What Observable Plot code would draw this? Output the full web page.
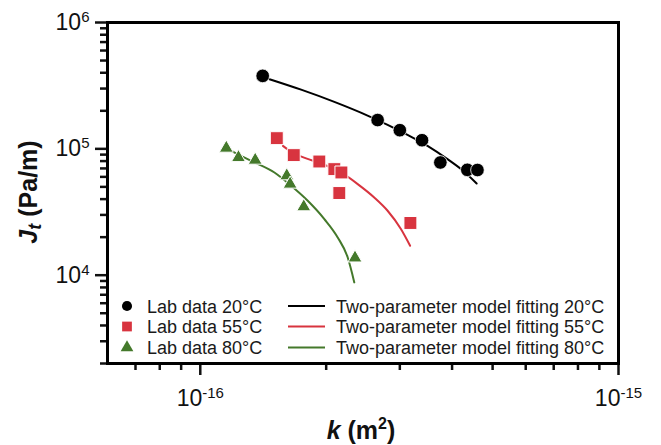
<!DOCTYPE html>
<html>
<head>
<meta charset="utf-8">
<script src="https://cdn.jsdelivr.net/npm/d3@7"></script>
<script src="https://cdn.jsdelivr.net/npm/@observablehq/plot@0.6"></script>
<style>
  html, body { margin: 0; padding: 0; background: #fff; }
  #chart { width: 661px; height: 445px; }
</style>
</head>
<body>
<div id="chart"></div>
<script>
// ---- data ----
const k20 = [1.41e-16, 2.655e-16, 3.0e-16, 3.39e-16, 3.75e-16, 4.35e-16, 4.6e-16];
const J20 = [3.78e5, 1.69e5, 1.405e5, 1.17e5, 7.8e4, 6.82e4, 6.8e4];

const k55 = [1.524e-16, 1.673e-16, 1.926e-16, 2.092e-16, 2.175e-16, 2.15e-16, 3.18e-16];
const J55 = [1.215e5, 8.92e4, 7.94e4, 6.91e4, 6.5e4, 4.47e4, 2.59e4];

const k80 = [1.154e-16, 1.234e-16, 1.353e-16, 1.61e-16, 1.64e-16, 1.768e-16, 2.344e-16];
const J80 = [1.013e5, 8.53e4, 8.14e4, 6.12e4, 5.26e4, 3.48e4, 1.37e4];

const fitK20 = [1.464e-16, 1.742e-16, 2.092e-16, 2.512e-16, 2.805e-16, 3.13e-16, 3.494e-16, 3.90e-16, 4.27e-16, 4.58e-16];
const fitJ20 = [3.556e5, 2.94e5, 2.353e5, 1.834e5, 1.549e5, 1.29e5, 1.056e5, 8.29e4, 6.62e4, 5.32e4];

const fitK55 = [1.576e-16, 1.673e-16, 1.791e-16, 1.944e-16, 2.17e-16, 2.379e-16, 2.606e-16, 2.805e-16, 3.018e-16, 3.175e-16];
const fitJ55 = [1.056e5, 9.21e4, 8.41e4, 7.65e4, 6.5e4, 5.26e4, 4.12e4, 3.235e4, 2.32e4, 1.71e4];

const fitK80 = [1.164e-16, 1.230e-16, 1.348e-16, 1.504e-16, 1.649e-16, 1.807e-16, 1.98e-16, 2.131e-16, 2.252e-16, 2.335e-16];
const fitJ80 = [1.0e5, 9.05e4, 7.82e4, 6.5e4, 5.1e4, 3.88e4, 2.78e4, 1.99e4, 1.38e4, 8.77e3];

const xMajorTicks = [1e-16, 1e-15];
const xMinorTicks = [7e-17, 8e-17, 9e-17, 2e-16, 3e-16, 4e-16, 5e-16, 6e-16, 7e-16, 8e-16, 9e-16];
const yMajorTicks = [1e4, 1e5, 1e6];
const yMinorTicks = [2e3, 3e3, 4e3, 5e3, 6e3, 7e3, 8e3, 9e3,
                     2e4, 3e4, 4e4, 5e4, 6e4, 7e4, 8e4, 9e4,
                     2e5, 3e5, 4e5, 5e5, 6e5, 7e5, 8e5, 9e5];

const seriesLabels = ["20°C", "55°C", "80°C"];
const seriesColors = ["#000000", "#d8343f", "#44792b"];

const toRows = (ks, js) => ks.map((k, i) => ({k, J: js[i]}));
const pts20 = toRows(k20, J20), pts55 = toRows(k55, J55), pts80 = toRows(k80, J80);
const fit20 = toRows(fitK20, fitJ20), fit55 = toRows(fitK55, fitJ55), fit80 = toRows(fitK80, fitJ80);

const expFmt = d => "10^" + Math.round(Math.log10(d));

const svg = Plot.plot({
  width: 661,
  height: 445,
  marginLeft: 107,
  marginRight: 43,
  marginTop: 22,
  marginBottom: 82,
  style: {fontFamily: "'Liberation Sans', Arial, sans-serif", color: "#111", background: "#fff", overflow: "visible"},
  x: {type: "log", domain: [6e-17, 1e-15], label: null},
  y: {type: "log", domain: [2e3, 1e6], label: null},
  marks: [
    Plot.axisX({ticks: xMinorTicks, tickSize: 7, strokeWidth: 2.5, tickFormat: () => "", label: null}),
    Plot.axisX({ticks: xMajorTicks, tickSize: 12, tickPadding: 14, strokeWidth: 2.5, fontSize: 23, tickFormat: expFmt, label: null}),
    Plot.axisY({ticks: yMinorTicks, tickSize: 7, strokeWidth: 2.5, tickFormat: () => "", label: null}),
    Plot.axisY({ticks: yMajorTicks, tickSize: 12, tickPadding: 6, strokeWidth: 2.5, fontSize: 23, tickFormat: expFmt, label: null}),
    Plot.frame({stroke: "#000", strokeWidth: 3}),
    Plot.line(fit20, {x: "k", y: "J", stroke: seriesColors[0], strokeWidth: 2, curve: "monotone-x"}),
    Plot.line(fit55, {x: "k", y: "J", stroke: seriesColors[1], strokeWidth: 2, curve: "monotone-x"}),
    Plot.line(fit80, {x: "k", y: "J", stroke: seriesColors[2], strokeWidth: 2, curve: "monotone-x"}),
    Plot.dot(pts20, {x: "k", y: "J", r: 6.8, symbol: "circle", fill: seriesColors[0], stroke: "#fff", strokeWidth: 0.8}),
    Plot.dot(pts55, {x: "k", y: "J", r: 7.3, symbol: "square", fill: seriesColors[1], stroke: "#fff", strokeWidth: 1}),
    Plot.dot(pts80, {x: "k", y: "J", r: 5.2, symbol: "triangle", fill: seriesColors[2], stroke: "#fff", strokeWidth: 1})
  ]
});

const NS = "http://www.w3.org/2000/svg";
// superscript exponents in tick labels
svg.querySelectorAll("text").forEach(t => {
  const m = /^10\^(-?\d+)$/.exec(t.textContent);
  if (!m) return;
  t.textContent = "";
  const base = document.createElementNS(NS, "tspan");
  base.textContent = "10";
  const sup = document.createElementNS(NS, "tspan");
  sup.textContent = m[1];
  sup.setAttribute("font-size", "15");
  sup.setAttribute("dy", "-8");
  t.append(base, sup);
});

const s = d3.select(svg);
const font = "'Liberation Sans', Arial, sans-serif";

// x axis title: k (m²)
const xt = s.append("text")
  .attr("x", 361).attr("y", 439)
  .attr("text-anchor", "middle")
  .attr("font-family", font).attr("font-size", 25).attr("font-weight", "bold").attr("fill", "#111");
xt.append("tspan").attr("font-style", "italic").text("k");
xt.append("tspan").text(" (m");
xt.append("tspan").attr("font-size", 16).attr("dy", -10).text("2");
xt.append("tspan").attr("dy", 10).text(")");

// y axis title: J_t (Pa/m)
const yt = s.append("text")
  .attr("transform", "translate(37,192) rotate(-90)")
  .attr("text-anchor", "middle")
  .attr("font-family", font).attr("font-size", 25).attr("font-weight", "bold").attr("fill", "#111");
yt.append("tspan").attr("font-style", "italic").text("J");
yt.append("tspan").attr("font-style", "italic").attr("font-size", 18).attr("dy", 4).text("t");
yt.append("tspan").attr("dy", -4).text(" (Pa/m)");

// legend
const lg = s.append("g").attr("font-family", font).attr("font-size", 18).attr("fill", "#1a1a1a").attr("text-anchor", "start");
const rowsY = [306, 326.5, 347.5];
const symbols = [d3.symbolCircle, d3.symbolSquare, d3.symbolTriangle];
const symSize = [80, 95, 70];
seriesLabels.forEach((lab, i) => {
  const y = rowsY[i];
  lg.append("path")
    .attr("d", d3.symbol(symbols[i], symSize[i])())
    .attr("transform", `translate(127,${y})`)
    .attr("fill", seriesColors[i]);
  lg.append("text").attr("x", 147).attr("y", y + 6.5).attr("text-anchor", "start").text("Lab data " + lab);
  lg.append("line")
    .attr("x1", 288).attr("x2", 325).attr("y1", y).attr("y2", y)
    .attr("stroke", seriesColors[i]).attr("stroke-width", 2);
  lg.append("text").attr("x", 336).attr("y", y + 6.5).attr("text-anchor", "start").text("Two-parameter model fitting " + lab);
});

document.getElementById("chart").appendChild(svg);
</script>
</body>
</html>
